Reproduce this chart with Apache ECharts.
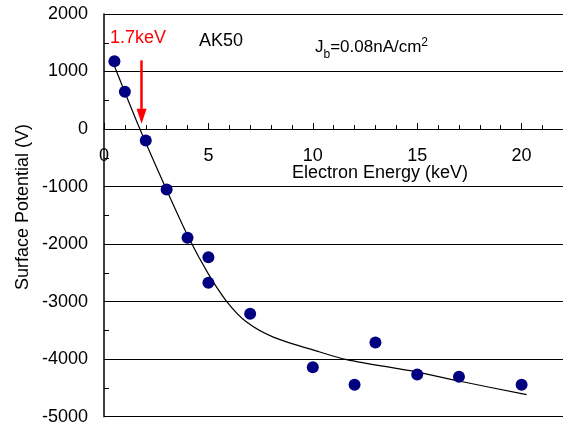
<!DOCTYPE html>
<html>
<head>
<meta charset="utf-8">
<script src="https://cdn.jsdelivr.net/npm/echarts@6/dist/echarts.min.js"></script>
<style>
  html, body { margin: 0; padding: 0; background: #fff; }
  #chart { width: 563px; height: 423px; }
</style>
</head>
<body>
<div id="chart"></div>
<script>
// Measured surface potential vs. electron beam energy (AK50)
const energy = [0.5, 1, 2, 3, 4, 5, 5, 7, 10, 12, 13, 15, 17, 20];
const potential = [1180, 650, -200, -1050, -1890, -2230, -2670, -3210, -4140, -4445, -3710, -4265, -4305, -4445];

// Fitted trend curve
const fitEnergy = [0.45, 1.72, 2.97, 4.04, 4.99, 5.90, 6.83, 8.11, 10.34, 11.62, 15.0, 17.0, 20.24];
const fitPotential = [1140, 0, -1036, -1877, -2513, -3007, -3355, -3616, -3876, -4008, -4224, -4380, -4617];

// Crossover energy marker (arrow from top to tip)
const crossEnergy = 1.8;
const arrowFrom = 1194;
const arrowTo = 224;

const yTicks = [-5000, -4000, -3000, -2000, -1000, 0, 1000, 2000];
const xTicks = [0, 5, 10, 15, 20];

const FONT = "'Liberation Sans', Arial, sans-serif";

const GRID_TOP = 14;
const GRID_BOTTOM = 6.3;
const CANVAS_H = 423;
const Y_MIN = -5000;
const Y_MAX = 2000;

const chart = echarts.init(document.getElementById('chart'), null, { renderer: 'canvas' });

const pointData = energy.map((e, i) => [e, potential[i]]);
const fitData = fitEnergy.map((e, i) => [e, fitPotential[i]]);

// The x axis sits on the zero line: shift the bottom axis up by the
// distance from the grid bottom to y = 0.
const plotH = CANVAS_H - GRID_TOP - GRID_BOTTOM;
const zeroShift = plotH * (0 - Y_MIN) / (Y_MAX - Y_MIN);

chart.setOption({
  animation: false,
  backgroundColor: '#fff',
  grid: { left: 104, right: -63, top: GRID_TOP, bottom: GRID_BOTTOM, containLabel: false, outerBoundsMode: 'none' },
  xAxis: {
    type: 'value',
    position: 'bottom',
    offset: -zeroShift,
    min: 0,
    max: 25,
    interval: 5,
    axisLine: { onZero: false, lineStyle: { color: '#000', width: 1 } },
    axisTick: { show: true, inside: true, length: 6, lineStyle: { color: '#000', width: 1 } },
    minorTick: { show: true, splitNumber: 5, length: 4, lineStyle: { color: '#000', width: 1 } },
    axisLabel: {
      show: true,
      margin: 18,
      color: '#000',
      fontSize: 18,
      fontFamily: FONT,
      formatter: v => (xTicks.indexOf(v) >= 0 ? String(v) : '')
    },
    splitLine: { show: false }
  },
  yAxis: {
    type: 'value',
    min: Y_MIN,
    max: Y_MAX,
    interval: 1000,
    axisLine: { show: true, onZero: false, lineStyle: { color: '#000', width: 1.5 } },
    axisTick: { show: true, inside: true, length: 5, lineStyle: { color: '#000', width: 1 } },
    minorTick: { show: true, splitNumber: 2, length: 5, lineStyle: { color: '#000', width: 1 } },
    axisLabel: {
      margin: 16,
      color: '#000',
      fontSize: 18,
      fontFamily: FONT,
      formatter: v => (yTicks.indexOf(v) >= 0 ? String(v) : '')
    },
    splitLine: { show: true, lineStyle: { color: '#000', width: 1 } }
  },
  graphic: [
    {
      type: 'text', x: 110, y: 38,
      style: { text: '1.7keV', fill: '#ff0000', font: '18px ' + FONT, verticalAlign: 'middle', align: 'left' }
    },
    {
      type: 'text', x: 199, y: 41,
      style: { text: 'AK50', fill: '#000', font: '18px ' + FONT, verticalAlign: 'middle', align: 'left' }
    },
    {
      type: 'text', x: 315, y: 47.5,
      style: {
        text: '{m|J}{sub|b}{m|=0.08nA/cm}{sup|2}',
        verticalAlign: 'middle', align: 'left',
        rich: {
          m: { fontSize: 17, fontFamily: FONT, color: '#000', lineHeight: 26, verticalAlign: 'middle' },
          sub: { fontSize: 12, fontFamily: FONT, color: '#000', lineHeight: 12, verticalAlign: 'bottom' },
          sup: { fontSize: 12, fontFamily: FONT, color: '#000', lineHeight: 12, verticalAlign: 'top', padding: [2, 0, 0, 0] }
        }
      }
    },
    {
      type: 'text', x: 380, y: 172.7,
      style: { text: 'Electron Energy (keV)', fill: '#000', font: '18px ' + FONT, verticalAlign: 'middle', align: 'center' }
    },
    {
      type: 'text', x: 23, y: 207, rotation: Math.PI / 2,
      style: { text: 'Surface Potential (V)', fill: '#000', font: '18px ' + FONT, verticalAlign: 'middle', align: 'center' }
    }
  ],
  series: [
    {
      type: 'line',
      data: fitData,
      showSymbol: false,
      symbol: 'none',
      smooth: 0.3,
      lineStyle: { color: '#000', width: 1.2 },
      z: 2,
      silent: true,
      markLine: {
        silent: true,
        symbol: ['none', 'triangle'],
        symbolSize: [10, 15],
        label: { show: false },
        lineStyle: { color: '#ff0000', width: 2.5, type: 'solid' },
        data: [[{ coord: [crossEnergy, arrowFrom] }, { coord: [crossEnergy, arrowTo] }]]
      }
    },
    {
      type: 'scatter',
      data: pointData,
      symbol: 'circle',
      symbolSize: 12,
      itemStyle: { color: '#000080', opacity: 1 },
      z: 3
    }
  ]
});
</script>
</body>
</html>
